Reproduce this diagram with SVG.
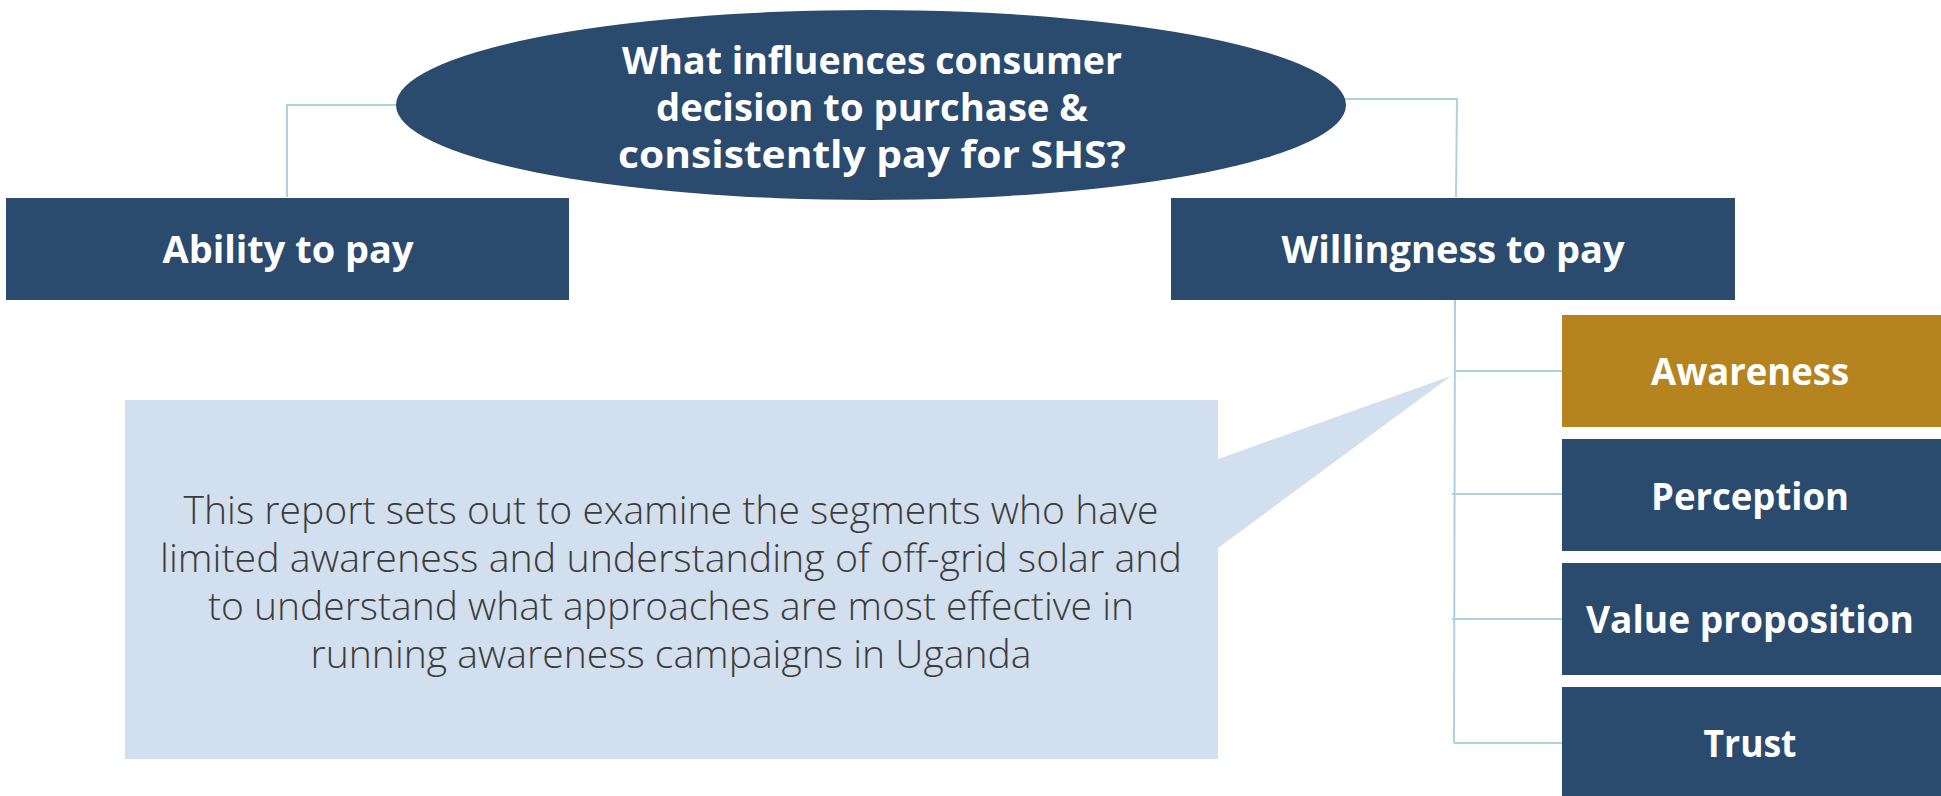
<svg xmlns="http://www.w3.org/2000/svg" width="1941" height="796" viewBox="0 0 1941 796">
<style>
.dark{fill:#2A4A6E}
.gold{fill:#B5841E}
.lbl{font-family:"Open Sans","Noto Sans","Liberation Sans",sans-serif;font-weight:bold;font-size:37px;fill:#FFFFFF;text-anchor:middle}
.body{font-family:"Open Sans","Noto Sans","Liberation Sans",sans-serif;font-weight:300;font-size:39px;fill:#3C3C3C;text-anchor:middle}
.conn{fill:none;stroke:#ADD3DA;stroke-width:2}
</style>
<rect width="1941" height="796" fill="#FFFFFF"/>
<g id="connectors">
<polyline class="conn" points="397,105 287,105 287,197"/>
<polyline class="conn" points="1340,99 1457,99 1456,197"/>
<polyline class="conn" points="1455,300 1454,743"/>
<line class="conn" x1="1454" y1="371" x2="1562" y2="371"/>
<line class="conn" x1="1452" y1="494" x2="1562" y2="494"/>
<line class="conn" x1="1452" y1="619" x2="1562" y2="619"/>
<line class="conn" x1="1454" y1="743" x2="1562" y2="743"/>
</g>
<g id="callout">
<polygon points="125,400 1218,400 1218,459 1451,376 1218,548 1218,759 125,759" fill="#D2DFEE"/>
<text class="body" x="671" y="524" textLength="975" lengthAdjust="spacingAndGlyphs">This report sets out to examine the segments who have</text>
<text class="body" x="671" y="572" textLength="1022" lengthAdjust="spacingAndGlyphs">limited awareness and understanding of off-grid solar and</text>
<text class="body" x="671" y="620" textLength="926" lengthAdjust="spacingAndGlyphs">to understand what approaches are most effective in</text>
<text class="body" x="671" y="668" textLength="721" lengthAdjust="spacingAndGlyphs">running awareness campaigns in Uganda</text>
</g>
<g id="question">
<ellipse cx="871" cy="105" rx="475" ry="95" class="dark"/>
<text class="lbl" x="872" y="74" textLength="500" lengthAdjust="spacingAndGlyphs">What influences consumer</text>
<text class="lbl" x="872" y="121" textLength="432" lengthAdjust="spacingAndGlyphs">decision to purchase &amp;</text>
<text class="lbl" x="872" y="168" textLength="508" lengthAdjust="spacingAndGlyphs">consistently pay for SHS?</text>
</g>
<g id="ability">
<rect x="6" y="198" width="563" height="102" class="dark"/>
<text class="lbl" x="288" y="263" textLength="251" lengthAdjust="spacingAndGlyphs">Ability to pay</text>
</g>
<g id="willingness">
<rect x="1171" y="198" width="564" height="102" class="dark"/>
<text class="lbl" x="1453" y="263" textLength="343" lengthAdjust="spacingAndGlyphs">Willingness to pay</text>
</g>
<g id="awareness">
<rect x="1562" y="315" width="379" height="112" class="gold"/>
<text class="lbl" x="1750" y="385" textLength="198" lengthAdjust="spacingAndGlyphs">Awareness</text>
</g>
<g id="perception">
<rect x="1562" y="439" width="379" height="112" class="dark"/>
<text class="lbl" x="1750" y="510" textLength="198" lengthAdjust="spacingAndGlyphs">Perception</text>
</g>
<g id="value">
<rect x="1562" y="563" width="379" height="112" class="dark"/>
<text class="lbl" x="1750" y="633" textLength="328" lengthAdjust="spacingAndGlyphs">Value proposition</text>
</g>
<g id="trust">
<rect x="1562" y="687" width="379" height="112" class="dark"/>
<text class="lbl" x="1750" y="757" textLength="93" lengthAdjust="spacingAndGlyphs">Trust</text>
</g>
</svg>
